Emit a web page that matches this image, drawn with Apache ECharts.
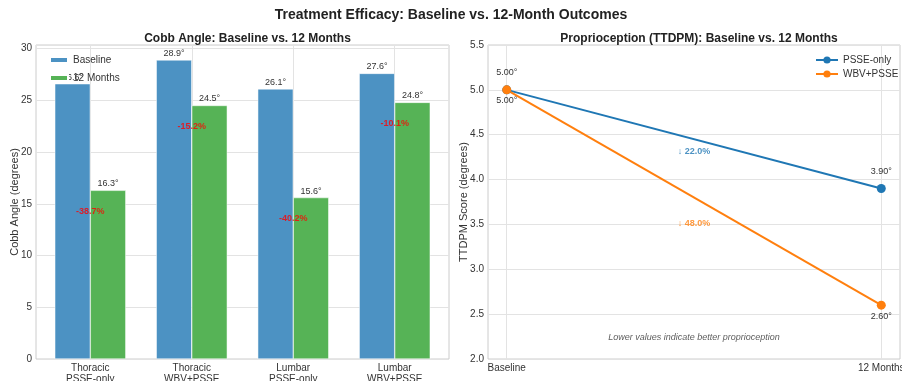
<!DOCTYPE html>
<html><head><meta charset="utf-8">
<script src="https://cdn.jsdelivr.net/npm/echarts@6/dist/echarts.min.js"></script>
<style>html,body{margin:0;padding:0;background:#fff}#c{width:902px;height:381px}</style>
</head><body><div id="c"></div>
<script>
// ---- data ----
const categories = ['Thoracic\nPSSE-only', 'Thoracic\nWBV+PSSE', 'Lumbar\nPSSE-only', 'Lumbar\nWBV+PSSE'];
const cobbBaseline = [26.6, 28.9, 26.1, 27.6];
const cobb12m = [16.3, 24.5, 15.6, 24.8];
const cobbTicks = [0, 5, 10, 15, 20, 25, 30];
const timepoints = ['Baseline', '12 Months'];
const psseOnly = [5.00, 3.90];
const wbvPsse = [5.00, 2.60];
const ttdpmTicks = [2.0, 2.5, 3.0, 3.5, 4.0, 4.5, 5.0, 5.5];

const FONT = 'Liberation Sans';
const TXT = '#333';
const GRIDC = '#e3e3e3';
const FRAME = '#cccccc';
const BLUE_BAR = '#4c92c3';
const GREEN_BAR = '#56b356';
const BLUE = '#1f77b4';
const ORANGE = '#ff7f0e';

const cobbMax = Math.max(...cobbBaseline, ...cobb12m) * 1.05;
const pct = cobbBaseline.map((b, i) => (cobb12m[i] - b) / b * 100);
const pctPts = cobb12m.map((a, i) => ({ value: [i, a - 2], label: { formatter: pct[i].toFixed(1) + '%' } }));

const ttMin = ttdpmTicks[0], ttMax = ttdpmTicks[ttdpmTicks.length - 1];
function dropLabel(series, color) {
  const d = series[0] - series[1];
  const mid = (series[0] + series[1]) / 2;
  return { value: [0.5, mid - 0.12 * d], label: { formatter: '↓ ' + (d / series[0] * 100).toFixed(1) + '%', color: color } };
}

// layout: left axes frame 36..449, right 488..900 ; top 45..359
const L = { left: 36, top: 45, width: 413, height: 314 };
const barUnit = L.width / (cobbBaseline.length - 1 + 0.35 * 2 + (cobbBaseline.length - 1 + 0.7) * 0.1);
const R = { left: 488, top: 45, width: 412, height: 314 };
const lineUnit = R.width / 1.1;

const chart = echarts.init(document.getElementById('c'), null, { renderer: 'canvas' });
chart.setOption({
  animation: false,
  backgroundColor: '#fff',
  textStyle: { fontFamily: FONT },
  title: [
    { text: 'Treatment Efficacy: Baseline vs. 12-Month Outcomes', left: 'center', top: 3,
      textStyle: { fontFamily: FONT, fontSize: 14, fontWeight: 'bold', color: '#222' } },
    { text: 'Cobb Angle: Baseline vs. 12 Months', left: L.left + L.width / 2, textAlign: 'center', top: 28,
      textStyle: { fontFamily: FONT, fontSize: 12, fontWeight: 'bold', color: '#222' } },
    { text: 'Proprioception (TTDPM): Baseline vs. 12 Months', left: R.left + R.width / 2, textAlign: 'center', top: 28,
      textStyle: { fontFamily: FONT, fontSize: 12, fontWeight: 'bold', color: '#222' } }
  ],
  legend: [
    { data: ['Baseline', '12 Months'], orient: 'vertical', left: 44, top: 50, icon: 'rect',
      itemWidth: 18, itemHeight: 6, itemGap: 8,
      textStyle: { fontFamily: FONT, fontSize: 10, color: TXT } },
    { data: ['PSSE-only', 'WBV+PSSE'], orient: 'vertical', left: 810, top: 50,
      itemWidth: 22, itemHeight: 9, itemGap: 4,
      textStyle: { fontFamily: FONT, fontSize: 10, color: TXT } }
  ],
  grid: [
    { left: L.left, top: L.top, width: L.width, height: L.height, show: true, borderColor: FRAME, borderWidth: 1, outerBoundsMode: 'none', containLabel: false },
    { left: L.left + 0.035 * barUnit, top: L.top, width: cobbBaseline.length * barUnit, height: L.height, outerBoundsMode: 'none', containLabel: false },
    { left: R.left, top: R.top, width: R.width, height: R.height, show: true, borderColor: FRAME, borderWidth: 1, outerBoundsMode: 'none', containLabel: false },
    { left: R.left + 0.05 * lineUnit, top: R.top, width: lineUnit, height: R.height, outerBoundsMode: 'none', containLabel: false }
  ],
  xAxis: [
    { gridIndex: 0, type: 'value', show: false, min: 0, max: 1 },
    { gridIndex: 1, type: 'category', data: categories,
      axisLine: { show: false }, axisTick: { show: false },
      axisLabel: { interval: 0, fontSize: 10, color: TXT, margin: 4, lineHeight: 11 },
      splitLine: { show: true, alignWithLabel: true, lineStyle: { color: GRIDC } } },
    { gridIndex: 2, type: 'value', show: false, min: -0.05, max: 1.05 },
    { gridIndex: 3, type: 'category', data: timepoints, boundaryGap: false,
      axisLine: { show: false }, axisTick: { show: false },
      axisLabel: { interval: 0, fontSize: 10, color: TXT, margin: 4 },
      splitLine: { show: true, lineStyle: { color: GRIDC } } }
  ],
  yAxis: [
    { gridIndex: 0, type: 'value', min: 0, max: cobbMax, interval: 5,
      axisLine: { show: false }, axisTick: { show: false },
      axisLabel: { fontSize: 10, color: TXT, margin: 4, showMaxLabel: false,
        formatter: v => cobbTicks.includes(v) ? String(v) : '' },
      splitLine: { show: true, lineStyle: { color: GRIDC } },
      name: 'Cobb Angle (degrees)', nameLocation: 'middle', nameGap: 16, nameMoveOverlap: false,
      nameTextStyle: { fontFamily: FONT, fontSize: 11, color: TXT } },
    { gridIndex: 1, type: 'value', min: 0, max: cobbMax, show: false },
    { gridIndex: 2, type: 'value', min: ttMin, max: ttMax, interval: 0.5,
      axisLine: { show: false }, axisTick: { show: false },
      axisLabel: { fontSize: 10, color: TXT, margin: 4, formatter: v => v.toFixed(1) },
      splitLine: { show: true, lineStyle: { color: GRIDC } },
      name: 'TTDPM Score (degrees)', nameLocation: 'middle', nameGap: 19, nameMoveOverlap: false,
      nameTextStyle: { fontFamily: FONT, fontSize: 11, color: TXT } },
    { gridIndex: 3, type: 'value', min: ttMin, max: ttMax, show: false }
  ],
  series: [
    { name: 'Baseline', type: 'bar', xAxisIndex: 1, yAxisIndex: 1, data: cobbBaseline,
      barWidth: '35%', barGap: '0%',
      itemStyle: { color: BLUE_BAR, borderColor: '#fff', borderWidth: 0.5 },
      label: { show: true, position: 'top', distance: 2, fontSize: 9, color: TXT, formatter: p => p.value + '°' } },
    { name: '12 Months', type: 'bar', xAxisIndex: 1, yAxisIndex: 1, data: cobb12m,
      barWidth: '35%', barGap: '0%',
      itemStyle: { color: GREEN_BAR, borderColor: '#fff', borderWidth: 0.5 },
      label: { show: true, position: 'top', distance: 2, fontSize: 9, color: TXT, formatter: p => p.value + '°' } },
    { type: 'scatter', xAxisIndex: 1, yAxisIndex: 1, data: pctPts, symbolSize: 1, z: 5,
      itemStyle: { color: 'rgba(0,0,0,0)' }, silent: true,
      label: { show: true, position: 'inside', fontSize: 9, fontWeight: 'bold', color: '#ff0000' } },
    { name: 'PSSE-only', type: 'line', xAxisIndex: 3, yAxisIndex: 3, data: psseOnly,
      symbol: 'circle', symbolSize: 9, lineStyle: { width: 2, color: BLUE }, itemStyle: { color: BLUE },
      label: { show: true, position: 'top', distance: 8, fontSize: 9, color: TXT, formatter: p => p.value.toFixed(2) + '°' } },
    { name: 'WBV+PSSE', type: 'line', xAxisIndex: 3, yAxisIndex: 3, data: wbvPsse,
      symbol: 'circle', symbolSize: 9, lineStyle: { width: 2, color: ORANGE }, itemStyle: { color: ORANGE },
      label: { show: true, position: 'bottom', distance: 2, fontSize: 9, color: TXT, formatter: p => p.value.toFixed(2) + '°' } },
    { type: 'scatter', xAxisIndex: 2, yAxisIndex: 2, symbolSize: 1, silent: true,
      itemStyle: { color: 'rgba(0,0,0,0)' },
      data: [dropLabel(psseOnly, BLUE), dropLabel(wbvPsse, ORANGE),
        { value: [0.5, ttMin + 0.07 * (ttMax - ttMin)], label: { formatter: 'Lower values indicate better proprioception', fontStyle: 'italic', fontWeight: 'normal', color: TXT } }],
      label: { show: true, position: 'inside', fontSize: 9, fontWeight: 'bold' } }
  ]
});
</script></body></html>
